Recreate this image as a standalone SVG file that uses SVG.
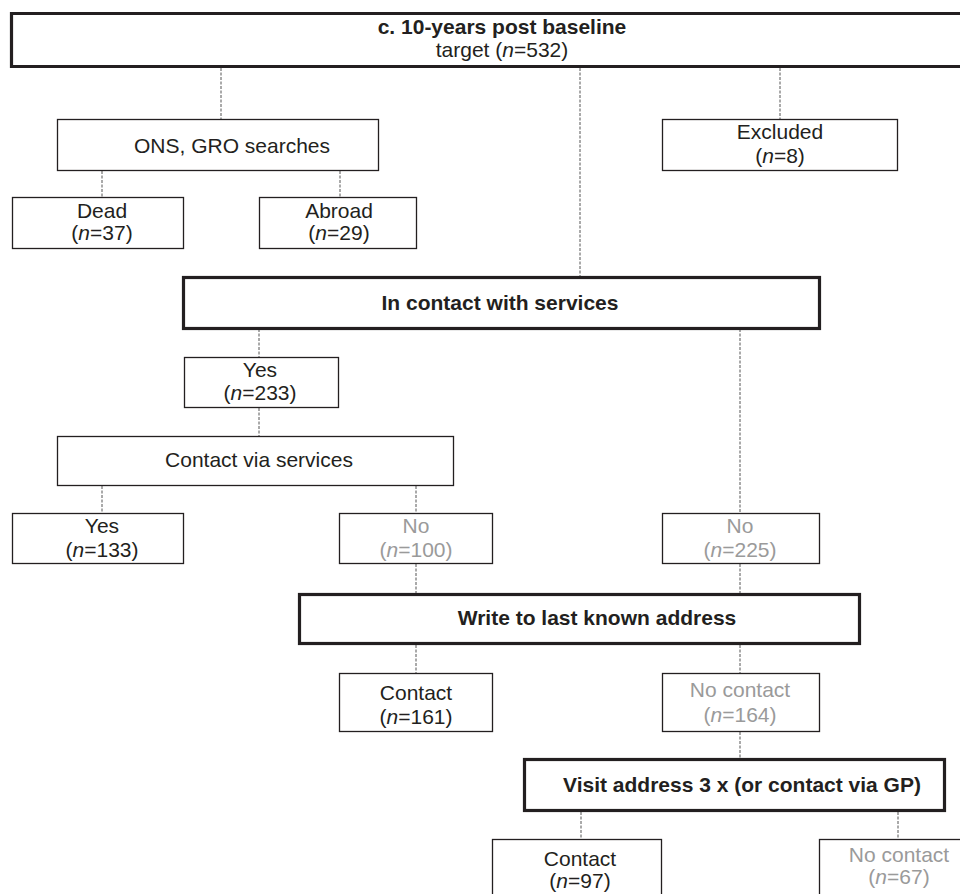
<svg xmlns="http://www.w3.org/2000/svg" width="960" height="894" viewBox="0 0 960 894">
<style>
text{font-family:"Liberation Sans",Arial,Helvetica,sans-serif;font-size:21px;fill:#231f20;text-anchor:middle}
.b{font-weight:bold}
.g{fill:#9a9a9a}
.box{fill:#fff;stroke:#231f20;stroke-width:1.3}
.thick{fill:#fff;stroke:#231f20;stroke-width:3.2}
.con line{stroke:#555;stroke-width:1;stroke-dasharray:3 1.5}
</style>
<rect width="960" height="894" fill="#fff"/>
<g id="connectors" class="con">
<line x1="221" y1="68" x2="221" y2="119"/>
<line x1="580" y1="68" x2="580" y2="276"/>
<line x1="780" y1="68" x2="780" y2="119"/>
<line x1="102" y1="171" x2="102" y2="197"/>
<line x1="340" y1="171" x2="340" y2="197"/>
<line x1="259" y1="329" x2="259" y2="357"/>
<line x1="740" y1="329" x2="740" y2="513"/>
<line x1="259" y1="408" x2="259" y2="436"/>
<line x1="102" y1="486" x2="102" y2="513"/>
<line x1="416" y1="486" x2="416" y2="513"/>
<line x1="416" y1="564" x2="416" y2="593"/>
<line x1="740" y1="564" x2="740" y2="593"/>
<line x1="416" y1="645" x2="416" y2="673"/>
<line x1="740" y1="645" x2="740" y2="673"/>
<line x1="740" y1="732" x2="740" y2="758"/>
<line x1="581" y1="812" x2="581" y2="839"/>
<line x1="898" y1="812" x2="898" y2="839"/>
</g>
<g id="baseline">
<path d="M962 13.5H11.5V66.5H962" fill="#fff" stroke="#231f20" stroke-width="3.2"/>
<text x="502" y="34" class="b">c. 10-years post baseline</text>
<text x="502" y="57">target (<tspan font-style="italic">n</tspan>=532)</text>
</g>
<g id="ons">
<rect class="box" x="57.5" y="119.5" width="321" height="51"/>
<text x="232" y="153">ONS, GRO searches</text>
</g>
<g id="excluded">
<rect class="box" x="662.5" y="119.5" width="235" height="51"/>
<text x="780" y="139">Excluded</text>
<text x="780" y="163">(<tspan font-style="italic">n</tspan>=8)</text>
</g>
<g id="dead">
<rect class="box" x="12.5" y="197.5" width="171" height="51"/>
<text x="102" y="218">Dead</text>
<text x="102" y="240">(<tspan font-style="italic">n</tspan>=37)</text>
</g>
<g id="abroad">
<rect class="box" x="259.5" y="197.5" width="157" height="51"/>
<text x="339" y="218">Abroad</text>
<text x="339" y="240">(<tspan font-style="italic">n</tspan>=29)</text>
</g>
<g id="incontact">
<rect class="thick" x="183.5" y="277.5" width="636" height="51"/>
<text x="500" y="310" class="b">In contact with services</text>
</g>
<g id="yes233">
<rect class="box" x="184.5" y="357.5" width="154" height="50"/>
<text x="260" y="377">Yes</text>
<text x="260" y="400">(<tspan font-style="italic">n</tspan>=233)</text>
</g>
<g id="viaservices">
<rect class="box" x="57.5" y="436.5" width="396" height="49"/>
<text x="259" y="467">Contact via services</text>
</g>
<g id="yes133">
<rect class="box" x="12.5" y="513.5" width="171" height="50"/>
<text x="102" y="533">Yes</text>
<text x="102" y="557">(<tspan font-style="italic">n</tspan>=133)</text>
</g>
<g id="no100">
<rect class="box" x="339.5" y="513.5" width="153" height="50"/>
<text x="416" y="533" class="g">No</text>
<text x="416" y="557" class="g">(<tspan font-style="italic">n</tspan>=100)</text>
</g>
<g id="no225">
<rect class="box" x="662.5" y="513.5" width="157" height="50"/>
<text x="740" y="533" class="g">No</text>
<text x="740" y="557" class="g">(<tspan font-style="italic">n</tspan>=225)</text>
</g>
<g id="write">
<rect class="thick" x="299.5" y="594.5" width="560" height="49"/>
<text x="597" y="625" class="b">Write to last known address</text>
</g>
<g id="contact161">
<rect class="box" x="339.5" y="673.5" width="153" height="58"/>
<text x="416" y="700">Contact</text>
<text x="416" y="724">(<tspan font-style="italic">n</tspan>=161)</text>
</g>
<g id="nocontact164">
<rect class="box" x="662.5" y="673.5" width="157" height="58"/>
<text x="740" y="697" class="g">No contact</text>
<text x="740" y="722" class="g">(<tspan font-style="italic">n</tspan>=164)</text>
</g>
<g id="visit">
<rect class="thick" x="524.5" y="759.5" width="420" height="51"/>
<text x="742" y="792" class="b">Visit address 3 x (or contact via GP)</text>
</g>
<g id="contact97">
<rect class="box" x="492.5" y="839.5" width="169" height="70"/>
<text x="580" y="866">Contact</text>
<text x="580" y="888">(<tspan font-style="italic">n</tspan>=97)</text>
</g>
<g id="nocontact67">
<rect class="box" x="819.5" y="839.5" width="160" height="70"/>
<text x="899" y="862" class="g">No contact</text>
<text x="899" y="884" class="g">(<tspan font-style="italic">n</tspan>=67)</text>
</g>
</svg>
